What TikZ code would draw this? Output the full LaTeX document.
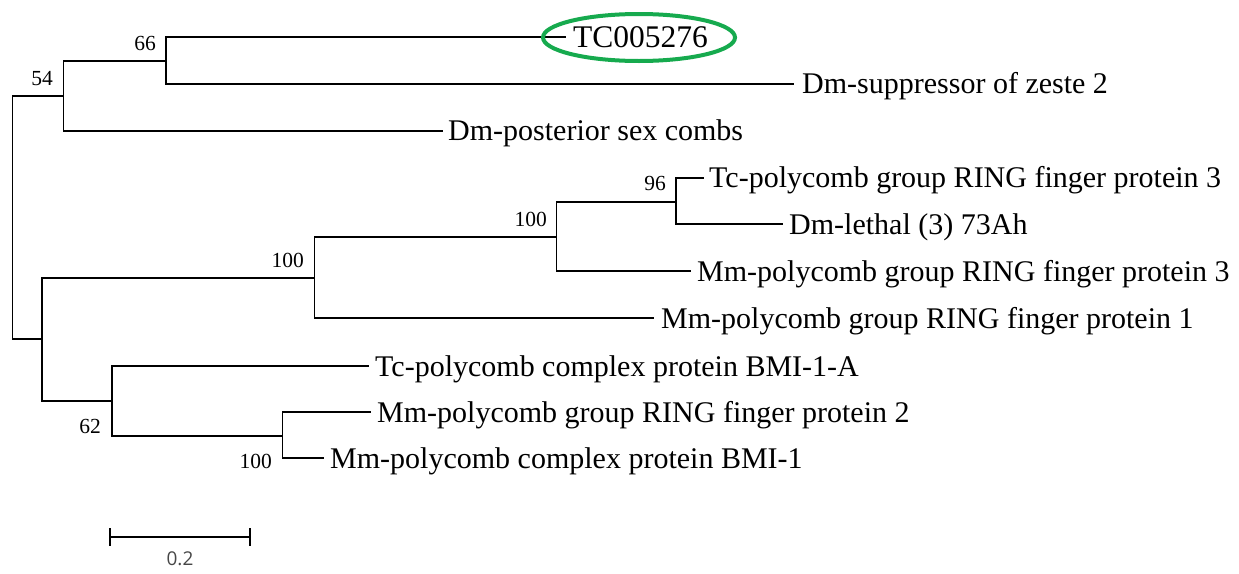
\documentclass[tikz,border=0pt]{standalone}
\usepackage{fontspec}
\setmainfont{Liberation Serif}
\newfontfamily\barfont{Open Sans}
\definecolor{ringgreen}{RGB}{22,170,78}
\tikzset{
  branch/.style={line width=1.8pt, line cap=rect},
  leaflabel/.style={anchor=base west, inner sep=0pt, font=\rmfamily\fontsize{30}{32}\selectfont},
  bigleaf/.style={anchor=base west, inner sep=0pt, font=\rmfamily\fontsize{31.5}{34}\selectfont},
  bootlabel/.style={anchor=base east, inner sep=0pt, font=\rmfamily\fontsize{21.5}{24}\selectfont},
  barlabel/.style={anchor=center, inner sep=0pt, text=black!72, font=\barfont\fontsize{19}{22}\selectfont}
}
\begin{document}
\begin{tikzpicture}[x=1pt,y=-1pt]
\useasboundingbox (0,0) rectangle (1239,573);
% internal nodes
\coordinate (root) at (12.5,217);
\coordinate (n54) at (63.5,95.7);
\coordinate (n66) at (165.7,60.7);
\coordinate (n42) at (42,339);
\coordinate (n314) at (314.5,278);
\coordinate (n556) at (556.5,236.7);
\coordinate (n675) at (676,201.7);
\coordinate (n112) at (111.7,401);
\coordinate (n282) at (282.5,436);
% leaf ends
\coordinate (eTC) at (565,37.3);
\coordinate (eSup) at (793,83.7);
\coordinate (ePost) at (442,130.7);
\coordinate (eTc3) at (703,177.7);
\coordinate (eLeth) at (782,224.3);
\coordinate (eMm3) at (690,271);
\coordinate (eMm1) at (653,318);
\coordinate (eTcB) at (368,366);
\coordinate (eMm2) at (370,412);
\coordinate (eMmB) at (323,458);
% branches
\draw[branch] (root) |- (n54);
\draw[branch] (root) |- (n42);
\draw[branch] (n54) |- (n66);
\draw[branch] (n54) |- (ePost);
\draw[branch] (n66) |- (eTC);
\draw[branch] (n66) |- (eSup);
\draw[branch] (n42) |- (n314);
\draw[branch] (n42) |- (n112);
\draw[branch] (n314) |- (n556);
\draw[branch] (n314) |- (eMm1);
\draw[branch] (n556) |- (n675);
\draw[branch] (n556) |- (eMm3);
\draw[branch] (n675) |- (eTc3);
\draw[branch] (n675) |- (eLeth);
\draw[branch] (n112) |- (eTcB);
\draw[branch] (n112) |- (n282);
\draw[branch] (n282) |- (eMm2);
\draw[branch] (n282) |- (eMmB);
% leaf labels
\node[bigleaf] (tTC) at (573,47.5) {TC005276};
\node[leaflabel] (tSup) at (802,93.7) {Dm-suppressor of zeste 2};
\node[leaflabel] (tPost) at (448,140.7) {Dm-posterior sex combs};
\node[leaflabel] (tTc3) at (709,187.7) {Tc-polycomb group RING finger protein 3};
\node[leaflabel] (tLeth) at (789,234.3) {Dm-lethal (3) 73Ah};
\node[leaflabel] (tMm3) at (697,281) {Mm-polycomb group RING finger protein 3};
\node[leaflabel] (tMm1) at (661,328) {Mm-polycomb group RING finger protein 1};
\node[leaflabel] (tTcB) at (375,376) {Tc-polycomb complex protein BMI-1-A};
\node[leaflabel] (tMm2) at (377,422) {Mm-polycomb group RING finger protein 2};
\node[leaflabel] (tMmB) at (330,468) {Mm-polycomb complex protein BMI-1};
% bootstrap values
\node[bootlabel] (b54) at (53,85) {54};
\node[bootlabel] (b66) at (156,50) {66};
\node[bootlabel] (b100a) at (304,267) {100};
\node[bootlabel] (b100b) at (547,226) {100};
\node[bootlabel] (b96) at (666,190) {96};
\node[bootlabel] (b62) at (101,433) {62};
\node[bootlabel] (b100c) at (272,468) {100};
% highlight ring
\draw[ringgreen, line width=4pt] (639,37.5) ellipse [x radius=96, y radius=23.5];
% scale bar
\coordinate (sL) at (110,536.7);
\coordinate (sR) at (250,536.7);
\draw[branch, line cap=butt] (sL) -- (sR);
\draw[branch, line cap=butt] ([yshift=-9]sL) -- ([yshift=9]sL);
\draw[branch, line cap=butt] ([yshift=-9]sR) -- ([yshift=9]sR);
\node[barlabel] (sbl) at (180,559) {0.2};
\end{tikzpicture}
\end{document}
